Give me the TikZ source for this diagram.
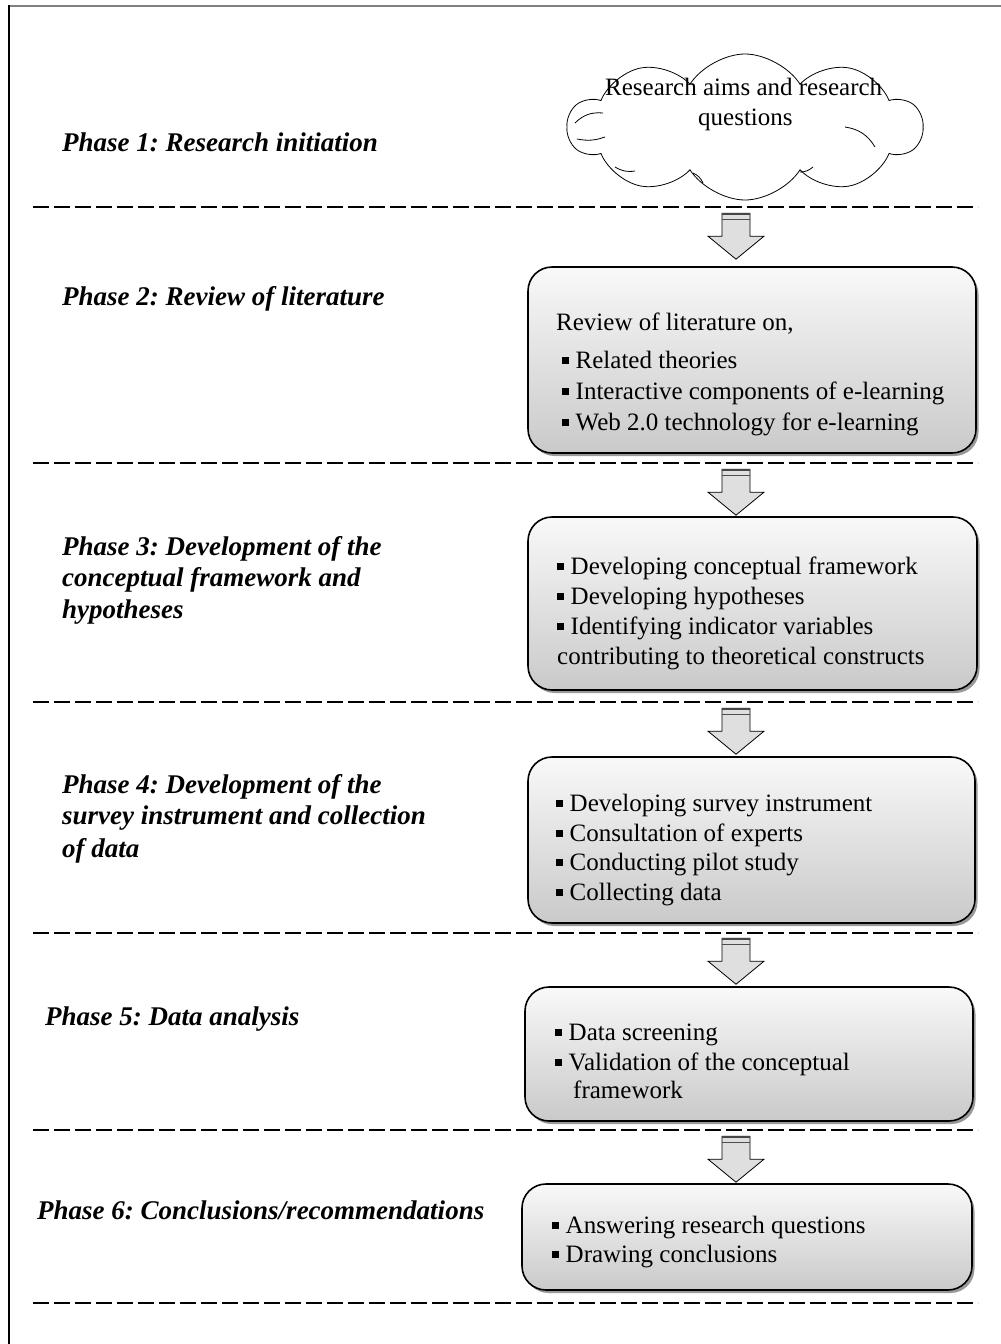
\documentclass[tikz,border=0pt]{standalone}
\usepackage{fontspec}
\setmainfont{Liberation Serif}
\usetikzlibrary{shapes.symbols,shadows,calc}
\frenchspacing

\newcommand{\bulletsq}{\raisebox{4.5pt}{\rule{6.5pt}{7pt}}\hspace{7pt}}

\tikzset{
  phase/.style={anchor=base west, inner sep=0pt, font=\fontsize{27}{31}\selectfont\bfseries\itshape},
  body/.style={anchor=base west, inner sep=0pt, font=\fontsize{25}{31}\selectfont},
  stagebox/.style={draw=black, line width=1.6pt, rounded corners=24pt,
    top color=gray!5, bottom color=gray!42, inner sep=0pt,
    drop shadow={shadow xshift=2.5pt, shadow yshift=-3pt, fill=gray!80, opacity=1}},
  divider/.style={line width=2pt, dash pattern=on 15.5pt off 5.5pt},
  puffline/.style={line width=0.8pt},
  flowarrow/.pic={
    \path[draw=black, line width=0.8pt, fill=gray!25]
      (0,0) -- (28,-23) -- (14,-23) -- (14,-46) -- (-14,-46) -- (-14,-23) -- (-28,-23) -- cycle;
    \draw[line width=2.2pt, gray!55!black] (-14,-45) -- (14,-45);
    \draw[line width=1pt, gray!60!black] (-14,-40) -- (14,-40);
  }
}

\begin{document}
\begin{tikzpicture}[x=1pt, y=-1pt]
  \useasboundingbox[fill=white] (0,0) rectangle (1001,1344);

  % page frame
  \draw[line width=2pt, gray] (9,6) -- (1001,6);
  \draw[line width=1.5pt, black] (9,5) -- (9,1344);

  % column of arrows
  \coordinate (ax) at (736,0);

  % phase dividers
  \foreach \yy in {207,463,702,933,1130,1303}
    \draw[divider] (33,\yy) -- (978,\yy);

  % phase 1: cloud with inner puff creases
  \node[draw=black, line width=0.8pt, cloud, cloud puffs=10, cloud puff arc=115,
        aspect=2.4, minimum width=354pt, minimum height=146pt, inner sep=0pt] (c1) at (745,127) {};
  \draw[puffline] ($(c1.center)+(-170,-4)$) to[bend left=25] ($(c1.center)+(-142,-14)$);
  \draw[puffline] ($(c1.center)+(-168,12)$) to[bend right=15] ($(c1.center)+(-140,10)$);
  \draw[puffline] ($(c1.center)+(-130,40)$) to[bend right=20] ($(c1.center)+(-110,44)$);
  \draw[puffline] ($(c1.center)+(-52,46)$) to[bend left=20] ($(c1.center)+(-42,56)$);
  \draw[puffline] ($(c1.center)+(55,45)$) to[bend right=20] ($(c1.center)+(68,40)$);
  \draw[puffline] ($(c1.center)+(100,0)$) to[bend left=25] ($(c1.center)+(130,20)$);
  \node[body] (c1a) at (605,95) {Research aims and research};
  \node[body] (c1b) at (698,125) {questions};
  \node[phase] (p1) at (62,151) {Phase 1: Research initiation};

  % phase 2
  \node[stagebox, minimum width=448pt, minimum height=186pt] (b2) at (752,360) {};
  \node[phase] (p2) at (62,305) {Phase 2: Review of literature};
  \node[body] (b2a) at (556,330) {Review of literature on,};
  \node[body] (b2b) at (562,368) {\bulletsq Related theories};
  \node[body] (b2c) at (562,399) {\bulletsq Interactive components of e-learning};
  \node[body] (b2d) at (562,430) {\bulletsq Web 2.0 technology for e-learning};

  % phase 3
  \node[stagebox, minimum width=449pt, minimum height=173pt] (b3) at (752.5,603.5) {};
  \node[phase] (p3a) at (62,555) {Phase 3: Development of the};
  \node[phase] (p3b) at (62,586) {conceptual framework and};
  \node[phase] (p3c) at (62,618) {hypotheses};
  \node[body] (b3a) at (557,574) {\bulletsq Developing conceptual framework};
  \node[body] (b3b) at (557,604) {\bulletsq Developing hypotheses};
  \node[body] (b3c) at (557,634) {\bulletsq Identifying indicator variables};
  \node[body] (b3d) at (557,664) {contributing to theoretical constructs};

  % phase 4
  \node[stagebox, minimum width=447pt, minimum height=166pt] (b4) at (751.5,840) {};
  \node[phase] (p4a) at (62,793) {Phase 4: Development of the};
  \node[phase] (p4b) at (62,824) {survey instrument and collection};
  \node[phase] (p4c) at (62,857) {of data};
  \node[body] (b4a) at (556,811) {\bulletsq Developing survey instrument};
  \node[body] (b4b) at (556,841) {\bulletsq Consultation of experts};
  \node[body] (b4c) at (556,870) {\bulletsq Conducting pilot study};
  \node[body] (b4d) at (556,900) {\bulletsq Collecting data};

  % phase 5
  \node[stagebox, minimum width=448pt, minimum height=134pt] (b5) at (749,1054) {};
  \node[phase] (p5) at (45,1025) {Phase 5: Data analysis};
  \node[body] (b5a) at (555,1040) {\bulletsq Data screening};
  \node[body] (b5b) at (555,1070) {\bulletsq Validation of the conceptual};
  \node[body] (b5c) at (573,1098) {framework};

  % phase 6
  \node[stagebox, minimum width=450pt, minimum height=106pt] (b6) at (747,1237) {};
  \node[phase] (p6) at (37,1219) {Phase 6: Conclusions/recommendations};
  \node[body] (b6a) at (552,1233) {\bulletsq Answering research questions};
  \node[body] (b6b) at (552,1262) {\bulletsq Drawing conclusions};

  % arrows leading into each stage
  \pic at ($(ax |- b2.north)+(0,-7)$) {flowarrow};
  \pic at ($(ax |- b3.north)+(0,-1)$) {flowarrow};
  \pic at ($(ax |- b4.north)+(0,-2)$) {flowarrow};
  \pic at ($(ax |- b5.north)+(0,-2)$) {flowarrow};
  \pic at ($(ax |- b6.north)+(0,-1)$) {flowarrow};
\end{tikzpicture}
\end{document}
